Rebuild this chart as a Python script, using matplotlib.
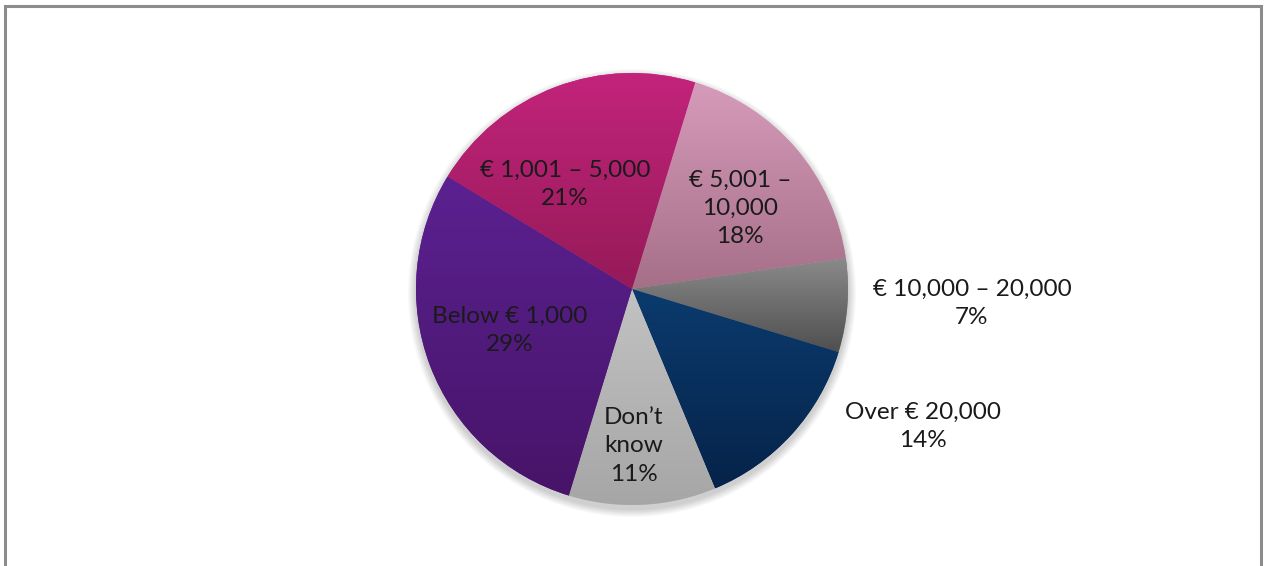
import numpy as np
import matplotlib
matplotlib.use("Agg")
import matplotlib.pyplot as plt
from matplotlib.patches import Rectangle, Circle
from matplotlib.colors import LinearSegmentedColormap

# ---- data ----
categories = ["€ 5,001 –\n10,000", "€ 10,000 – 20,000", "Over € 20,000",
              "Don’t\nknow", "Below € 1,000", "€ 1,001 – 5,000"]
shares = [18, 7, 14, 11, 29, 21]
pct_labels = ["18%", "7%", "14%", "11%", "29%", "21%"]

# ---- style ----
top_colors = ["#d69bba", "#8a8a8a", "#0b3b6e", "#c2c2c2", "#5b2191", "#c4247c"]
bot_colors = ["#a66f88", "#4f4f4f", "#062349", "#a6a6a6", "#471468", "#951a58"]
label_pos = [(740, 358), (972, 263), (923, 140), (634, 120), (510, 236), (565, 382)]

W, H = 1267, 566
fig = plt.figure(figsize=(W / 100, H / 100), dpi=100)
ax = fig.add_axes([0, 0, 1, 1])
cx, cy, R = 632, H - 289, 216

# soft shadow
for i in range(8):
    ax.add_patch(Circle((cx, cy - 4), R + 8 - i, facecolor="#000000",
                        alpha=0.025, linewidth=0, zorder=0))

wedges, _ = ax.pie(shares, radius=R, center=(cx, cy), startangle=73,
                   counterclock=False, colors=top_colors,
                   wedgeprops=dict(linewidth=0, zorder=1))
ax.set_xlim(0, W)
ax.set_ylim(0, H)
ax.set_aspect("auto")
ax.axis("off")

# vertical gradient fill in each wedge
for w, c1, c2 in zip(wedges, top_colors, bot_colors):
    verts = w.get_patch_transform().transform(w.get_path().vertices)
    x0, x1 = verts[:, 0].min(), verts[:, 0].max()
    y0, y1 = verts[:, 1].min(), verts[:, 1].max()
    cmap = LinearSegmentedColormap.from_list("g", [c2, c1])
    grad = np.linspace(0, 1, 256).reshape(-1, 1)
    im = ax.imshow(grad, cmap=cmap, extent=(x0, x1, y0, y1), origin="lower",
                   aspect="auto", zorder=2, interpolation="bilinear")
    im.set_clip_path(w)
ax.set_xlim(0, W)
ax.set_ylim(0, H)

for cat, p, (x, y) in zip(categories, pct_labels, label_pos):
    ax.text(x, y, cat + "\n" + p, ha="center", va="center", fontsize=17.5,
            color="#1a1a1a", linespacing=1.42, zorder=10,
            family=["Lato", "DejaVu Sans"])

# frame border
fig.patches.append(Rectangle((5 / W, -0.05), (1261 - 5) / W, 1.05 - 6 / H,
                             transform=fig.transFigure, fill=False,
                             edgecolor="#8c8c8c", linewidth=2.2))

fig.savefig("out.png", dpi=100)
